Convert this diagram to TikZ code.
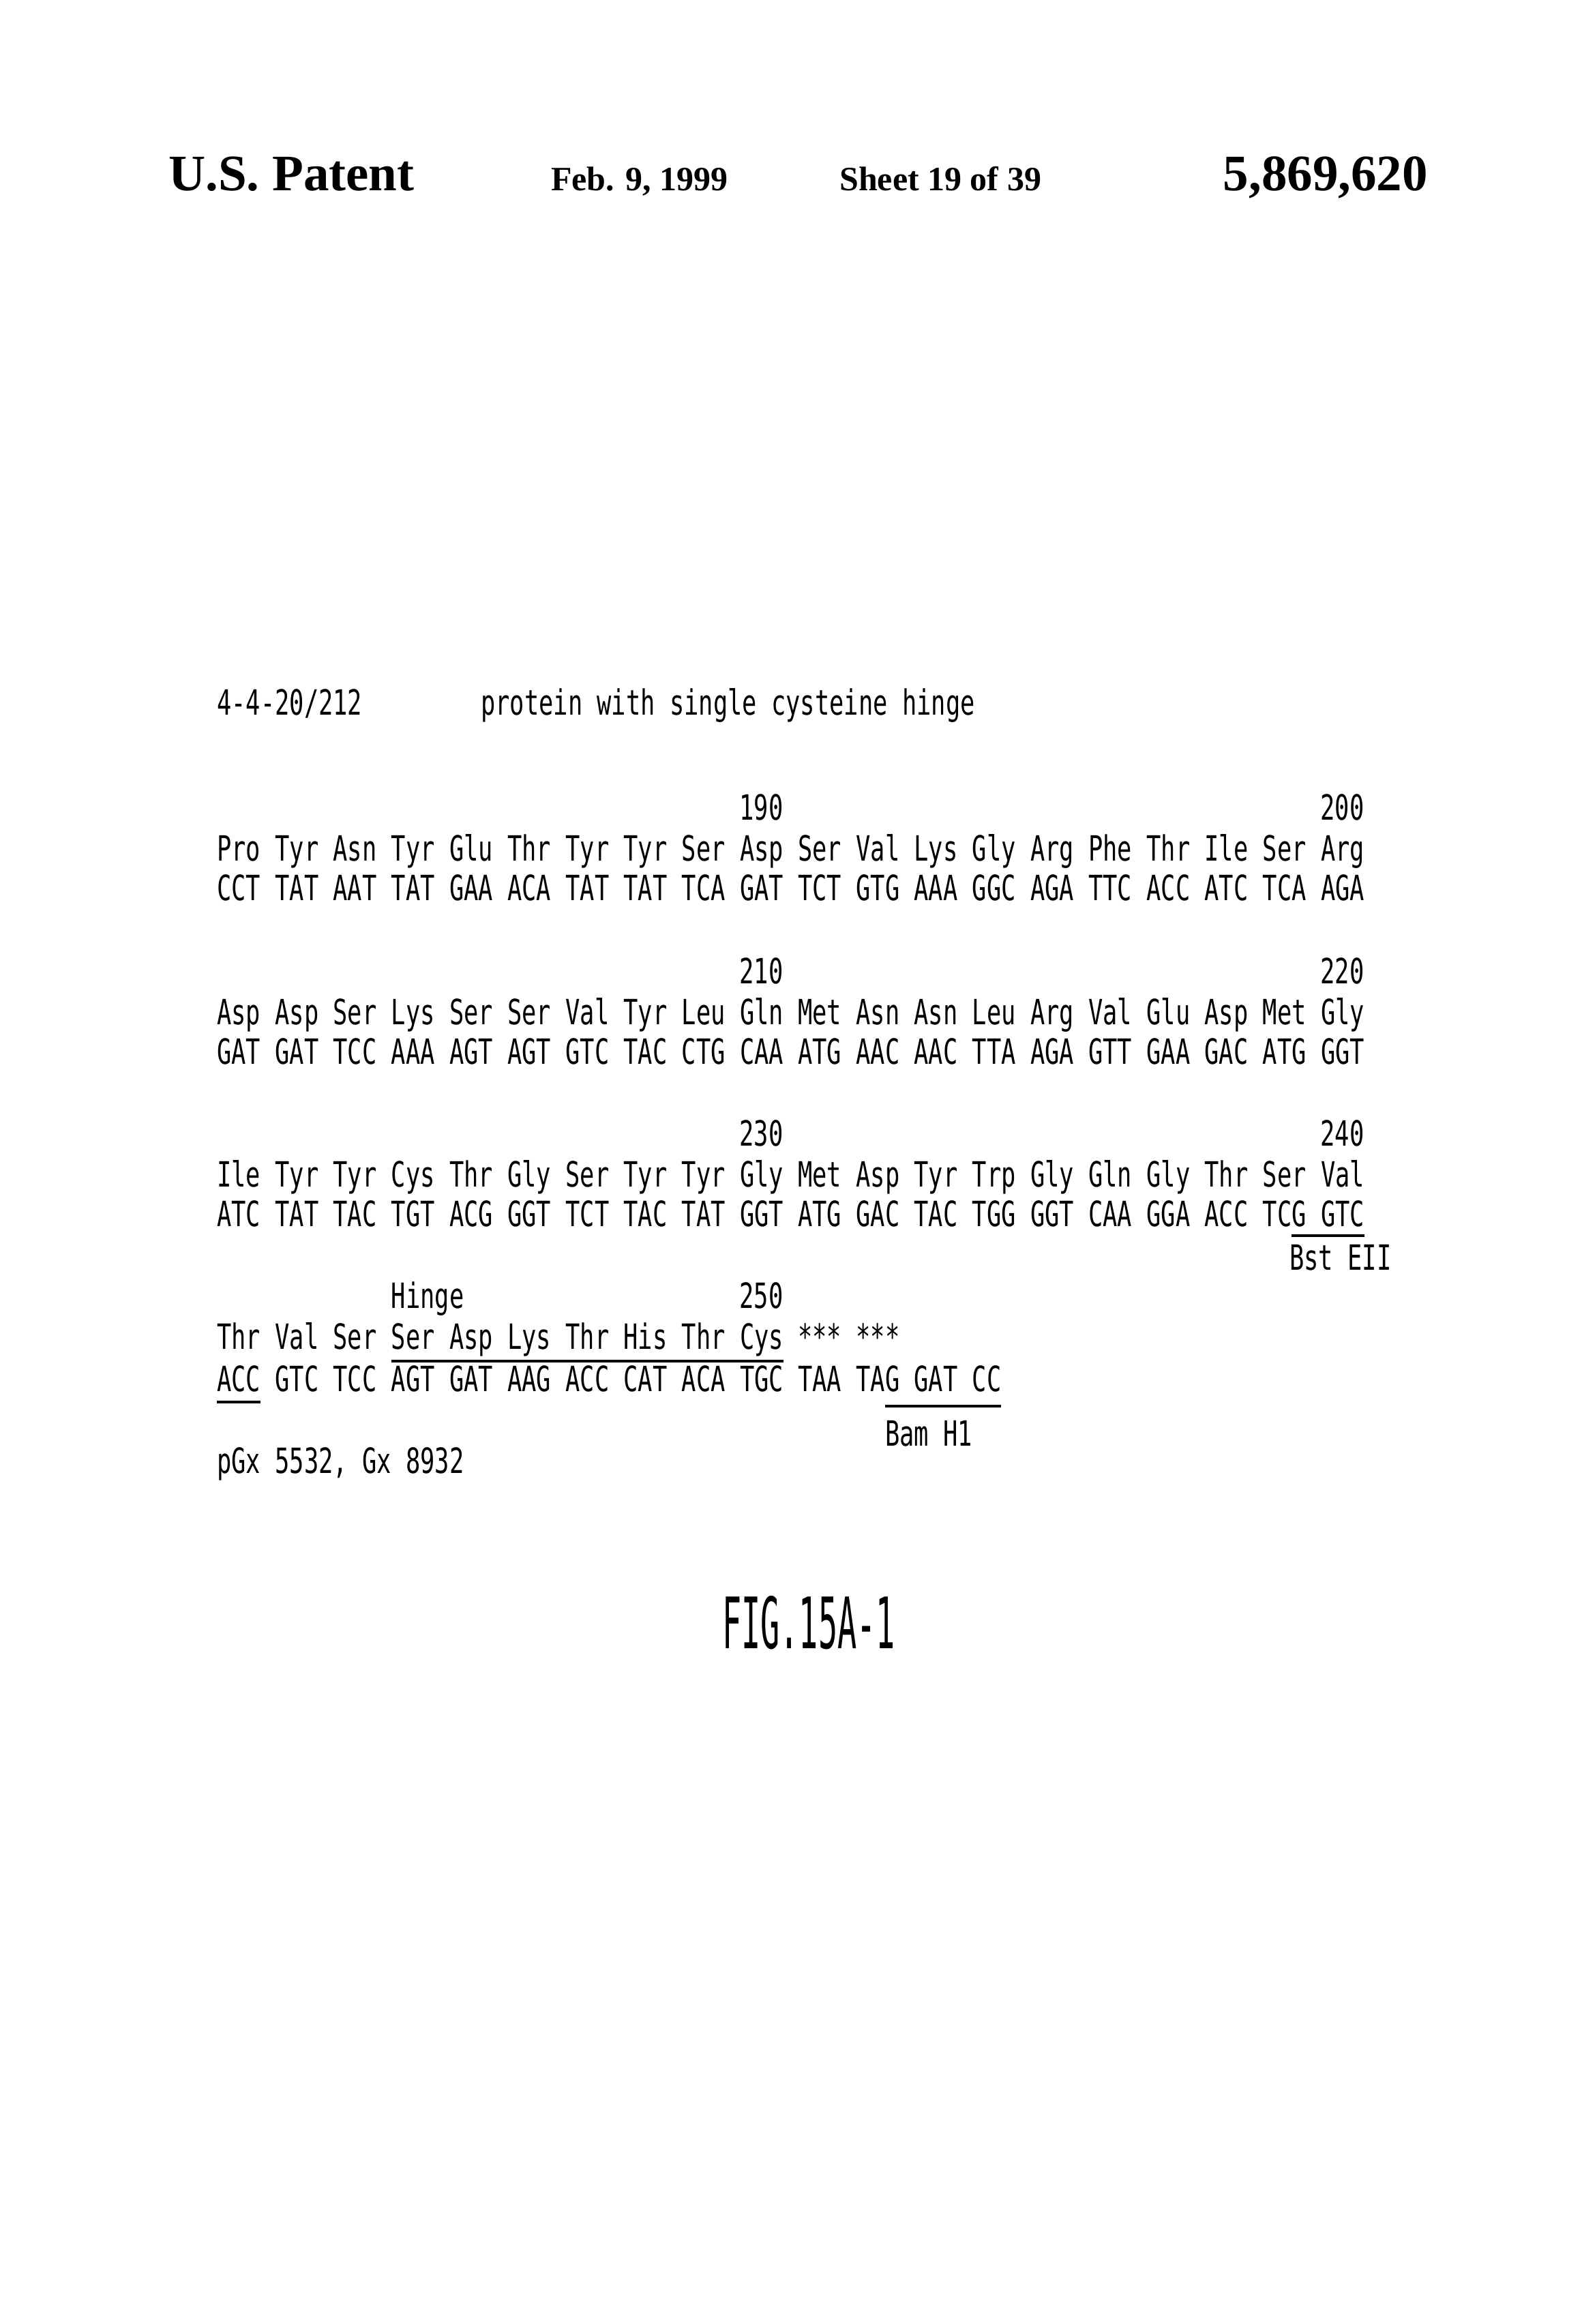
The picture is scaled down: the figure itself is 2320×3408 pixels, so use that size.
\documentclass[tikz,border=0pt]{standalone}
\usepackage{fontspec}
\newfontfamily\seqf[FakeStretch=0.694]{DejaVu Sans Mono}
\newfontfamily\figf[FakeStretch=0.45]{DejaVu Sans Mono}
\newfontfamily\hdrf{Liberation Serif}
\begin{document}
\begin{tikzpicture}[x=1pt,y=-1pt,
  seq/.style={font=\seqf\fontsize{51}{51}\selectfont,inner sep=0pt,anchor=base west},
  seqe/.style={seq,anchor=base east},
  hdr/.style={font=\hdrf\bfseries\fontsize{#1}{#1}\selectfont,inner sep=0pt,anchor=base west},
  ul/.style={line width=4pt}]
\useasboundingbox[fill=white] (0,0) rectangle (2320,3408);
\def\cw{21.3}\def\pc{85.2}\def\xo{318}
% header
\node[hdr=75] (h1) at (247,279) {U.S. Patent};
\node[hdr=50] (h2) at (808,279) {Feb. 9, 1999};
\node[hdr=50] (h3) at (1231,279) {Sheet 19 of 39};
\node[hdr=75,anchor=base east] (h4) at (2094,279) {5,869,620};
% title
\node[seq] (t1) at (\xo,1048) {4-4-20/212};
\node[seq] (t2) at (705,1048) {protein with single cysteine hinge};
% numbers
\node[seqe] (n190) at ({\xo+9*\pc+3*\cw},1202) {190};
\node[seqe] (n200) at ({\xo+19*\pc+3*\cw},1202) {200};
\node[seqe] (n210) at ({\xo+9*\pc+3*\cw},1442) {210};
\node[seqe] (n220) at ({\xo+19*\pc+3*\cw},1442) {220};
\node[seqe] (n230) at ({\xo+9*\pc+3*\cw},1680) {230};
\node[seqe] (n240) at ({\xo+19*\pc+3*\cw},1680) {240};
\node[seqe] (n250) at ({\xo+9*\pc+3*\cw},1918) {250};
\node[seq] (hinge) at ({\xo+3*\pc},1918) {Hinge};
% rows
\foreach \t [count=\i] in {Pro,Tyr,Asn,Tyr,Glu,Thr,Tyr,Tyr,Ser,Asp,Ser,Val,Lys,Gly,Arg,Phe,Thr,Ile,Ser,Arg}
  \node[seq] (a1-\i) at ({\xo+(\i-1)*\pc},1262) {\t};
\foreach \t [count=\i] in {CCT,TAT,AAT,TAT,GAA,ACA,TAT,TAT,TCA,GAT,TCT,GTG,AAA,GGC,AGA,TTC,ACC,ATC,TCA,AGA}
  \node[seq] (c1-\i) at ({\xo+(\i-1)*\pc},1320) {\t};
\foreach \t [count=\i] in {Asp,Asp,Ser,Lys,Ser,Ser,Val,Tyr,Leu,Gln,Met,Asn,Asn,Leu,Arg,Val,Glu,Asp,Met,Gly}
  \node[seq] (a2-\i) at ({\xo+(\i-1)*\pc},1502) {\t};
\foreach \t [count=\i] in {GAT,GAT,TCC,AAA,AGT,AGT,GTC,TAC,CTG,CAA,ATG,AAC,AAC,TTA,AGA,GTT,GAA,GAC,ATG,GGT}
  \node[seq] (c2-\i) at ({\xo+(\i-1)*\pc},1560) {\t};
\foreach \t [count=\i] in {Ile,Tyr,Tyr,Cys,Thr,Gly,Ser,Tyr,Tyr,Gly,Met,Asp,Tyr,Trp,Gly,Gln,Gly,Thr,Ser,Val}
  \node[seq] (a3-\i) at ({\xo+(\i-1)*\pc},1740) {\t};
\foreach \t [count=\i] in {ATC,TAT,TAC,TGT,ACG,GGT,TCT,TAC,TAT,GGT,ATG,GAC,TAC,TGG,GGT,CAA,GGA,ACC,TCG,GTC}
  \node[seq] (c3-\i) at ({\xo+(\i-1)*\pc},1798) {\t};
\foreach \t [count=\i] in {Thr,Val,Ser,Ser,Asp,Lys,Thr,His,Thr,Cys,***,***}
  \node[seq] (a4-\i) at ({\xo+(\i-1)*\pc},1978) {\t};
\foreach \t [count=\i] in {ACC,GTC,TCC,AGT,GAT,AAG,ACC,CAT,ACA,TGC,TAA,TAG,GAT,CC}
  \node[seq] (c4-\i) at ({\xo+(\i-1)*\pc},2040) {\t};
% underlines
\coordinate (b1) at ({\xo+18*\pc+2*\cw},1812);
\coordinate (b2) at ({\xo+19*\pc+3*\cw},1812);
\draw[ul] (b1) -- (b2);
\node[seqe] (bst) at ({\xo+19*\pc+3*\cw+40},1862) {Bst EII};
\coordinate (hg1) at ({\xo+3*\pc},1996);
\coordinate (hg2) at ({\xo+9*\pc+3*\cw},1996);
\draw[ul] (hg1) -- (hg2);
\coordinate (ac1) at (\xo,2056);
\coordinate (ac2) at ({\xo+3*\cw},2056);
\draw[ul] (ac1) -- (ac2);
\coordinate (bm1) at ({\xo+11*\pc+2*\cw},2062);
\coordinate (bm2) at ({\xo+13*\pc+2*\cw},2062);
\draw[ul] (bm1) -- (bm2);
\node[seq] (bam) at ({\xo+11*\pc+2*\cw},2120) {Bam H1};
\node[seq] (pgx) at (\xo,2160) {pGx 5532, Gx 8932};
% figure label
\node[inner sep=0pt,anchor=base west,font=\figf\fontsize{104}{104}\selectfont] (fig) at (1059,2417) {FIG.15A-1};
\end{tikzpicture}
\end{document}
